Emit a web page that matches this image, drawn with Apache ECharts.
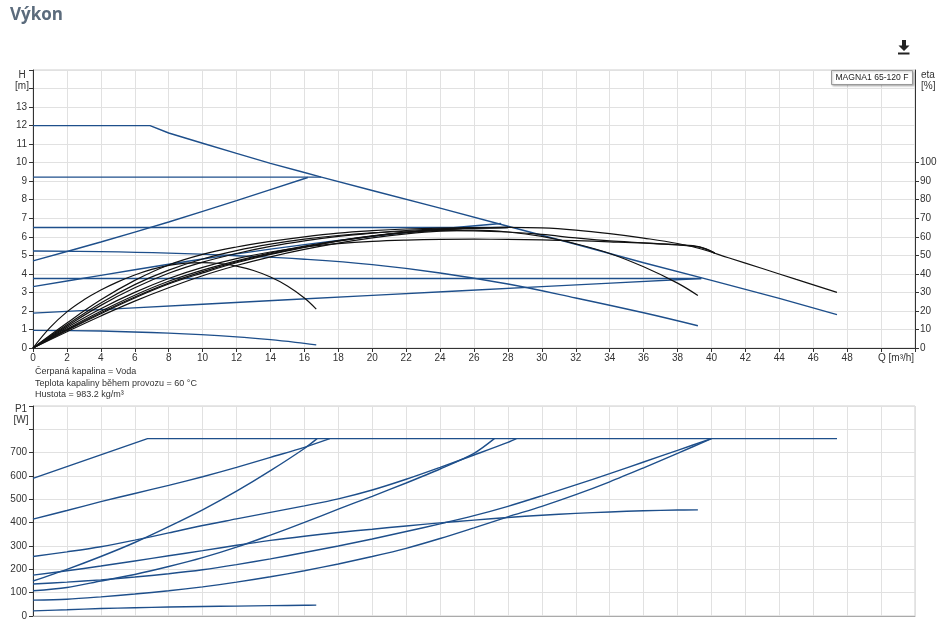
<!DOCTYPE html>
<html><head><meta charset="utf-8">
<script src="https://cdn.jsdelivr.net/npm/echarts@6/dist/echarts.min.js"></script>
<style>html,body{margin:0;padding:0;background:#fff}#c{width:948px;height:634px}</style>
</head><body><div id="c"></div>
<script>
// ---------- H (head) curves, [Q m3/h, H m] ----------
const hMax   = [[0,12],[6.9,12],[8,11.6],[10,11.05],[12,10.5],[14,9.96],[16,9.47],[17,9.22],[20,8.5],[24,7.55],[28,6.57],[32,5.6],[36,4.6],[40,3.65],[44,2.68],[47.4,1.8]];
const hConst92 = [[0,9.22],[17,9.22]];
const hConst65 = [[0,6.5],[28,6.5]];
const hConst375 = [[0,3.75],[39.4,3.75]];
const hProp47 = [[0,4.7],[4,5.72],[8,6.8],[12,7.95],[16.2,9.2]];
const hProp33 = [[0,3.31],[4,3.92],[8,4.52],[12,5.08],[16,5.58],[20,6.02],[24,6.42],[27.6,6.72]];
const hProp19 = [[0,1.88],[10,2.36],[20,2.84],[30,3.31],[39.4,3.75]];
const hFix525 = [[0,5.23],[4,5.2],[8,5.12],[12,4.98],[16,4.79],[20,4.5],[24,4.05],[28,3.45],[32,2.7],[36,1.9],[39.2,1.2]];
const hMin10 = [[0,0.95],[4,0.92],[8,0.8],[12,0.6],[14,0.45],[16,0.25],[16.7,0.17]];

// ---------- eta (efficiency) curves, [Q, %] ----------
const etaMin = [[0,0],[1,11],[2,19.5],[3,26],[4,31.3],[5,35.7],[6,39.4],[7,42.4],[8,44.6],[9,45.8],[10,46.1],[11,45.6],[12,44.2],[13,41.8],[14,38.3],[15,33.5],[16,27],[16.7,21]];
const etaMax = [[0,0],[2,9.5],[4,18.5],[6,27],[8,34.5],[10,40.5],[12,46],[14,50.5],[16,54.3],[18,57.6],[20,60.3],[22,62.4],[24,63.9],[26,64.8],[28,65.1],[30,64.8],[32,63.6],[34,61.7],[36,59.3],[38,56.4],[39.4,53.4],[41,48.7],[43,42.9],[45,37],[47.4,30]];
const etaFix = [[0,0],[2,8.8],[4,17.3],[6,25.3],[8,32.5],[10,39],[12,44.5],[14,49.2],[16,53.2],[18,56.6],[20,59.4],[22,61.6],[24,63.1],[26,63.6],[28,62.6],[30,60.2],[32,56.2],[34,51],[36,43.8],[38,35],[39.2,28.3]];
const etaC = [[0,0],[2,12.5],[4,24.3],[6,34.2],[8,42],[10,48],[12,52.5],[14,56],[16,58.7],[18,60.7],[20,62.1],[22,63],[24,63.3],[26,63.2],[28,62.6],[30,61.3],[32,59.4],[34,57.8],[36,56.8],[38,55.7],[39.3,54.6],[40.2,51.2]];
const etaD = [[0,0],[2,11],[4,21.2],[6,30],[8,37.5],[10,43.5],[12,48.2],[14,51.8],[16,54.5],[18,56.3],[20,57.5],[22,58.2],[24,58.6],[26,58.7],[28,58.6],[30,58.3],[32,57.9],[34,57.3],[36,56.6],[38,55.6],[39.3,54.4],[40.2,51.2]];
const etaE = [[0,0],[2,13.5],[4,26],[6,36.5],[8,44.8],[10,50.5],[12,54.5],[14,57.5],[16,60],[18,62],[20,63.3],[22,64.2],[24,64.7],[26,64.9]];
const etaF = [[0,0],[2,11.8],[4,23],[6,32.5],[8,40.3],[10,46.3],[12,51],[14,54.8],[16,57.8],[18,60.2],[20,62],[22,63.4],[24,64.3],[26,64.7]];
const etaG = [[0,0],[2,10.2],[4,19.8],[6,28.5],[8,36],[10,42],[12,47],[14,51.3],[16,55],[18,58],[20,60.5],[22,62.4],[24,63.7],[26,64.5],[28,64.9]];
const etaH = [[0,0],[2,9.8],[4,19],[6,27.5],[8,35],[10,41.2],[12,46.5],[14,50.8],[16,54.6],[18,57.8],[20,60.4],[22,62.4],[24,63.9],[26,64.8],[28,65.1]];

// ---------- P1 (power) curves, [Q, W] ----------
const pMax = [[0,590],[6.75,760],[47.4,760]];
const pConst92 = [[0,415],[2,452],[4,490],[6,525],[8,560],[10,597],[12,637],[14,680],[16,723],[17.5,760]];
const pProp47 = [[0,150],[2,200],[4,255],[6,315],[8,383],[10,455],[12,535],[14,623],[16,718],[16.75,760]];
const pConst65 = [[0,255],[2,275],[4,297],[6,325],[8,356],[10,388],[12,416],[14,444],[16,472],[18,502],[20,540],[22,586],[24,637],[26,690],[28,744],[28.5,760]];
const pProp33 = [[0,108],[2,122],[4,150],[6,178],[8,212],[10,250],[12,295],[14,347],[16,401],[18,458],[20,513],[22,570],[24,630],[26,697],[27.2,760]];
const pConst375 = [[0,137],[2,145],[4,155],[6,167],[8,181],[10,198],[12,220],[14,245],[16,272],[18,300],[20,330],[22,362],[24,395],[26,430],[28,470],[30,515],[32,562],[34,610],[36,660],[38,710],[40,760]];
const pProp19 = [[0,68],[2,72],[4,82],[6,94],[8,108],[10,125],[12,145],[14,168],[16,194],[18,223],[20,255],[22,290],[24,332],[26,378],[28,425],[30,470],[32,520],[34,575],[36,635],[38,697],[40,760]];
const pFix525 = [[0,175],[2,194],[4,214],[6,236],[8,258],[10,280],[12,303],[14,324],[16,342],[18,358],[20,372],[22,386],[24,399],[26,411],[28,422],[30,432],[32,440],[34,446],[36,451],[38,454],[39.2,455]];
const pMin = [[0,22],[2,27],[4,32],[6,35.5],[8,38.5],[10,40.5],[12,42.5],[14,44.3],[16,46],[16.7,46.5]];

// ---------- ticks / texts ----------
const qMaxLabel = 48;
const hMaxLabel = 13;
const etaTicks = [0,10,20,30,40,50,60,70,80,90,100];
const pMaxLabel = 700;
const titleText = 'Výkon';
const legendText = 'MAGNA1 65-120 F';
const notes = ['Čerpaná kapalina = Voda', 'Teplota kapaliny během provozu = 60 °C', 'Hustota = 983.2 kg/m³'];

const BLUE = '#1e4f8b', BLACK = '#111';
const FONT = 'Liberation Sans, Arial, sans-serif';
const gridLine = {show:true, lineStyle:{color:'#e1e1e1', width:1}};
const labelStyle = {fontSize:10, color:'#333', fontFamily:FONT};

function blue(data, smooth){return {type:'line', xAxisIndex:0, yAxisIndex:0, data, symbol:'none', smooth: smooth||false, lineStyle:{color:BLUE, width:1.4}, silent:true, z:3};}
function black(data){return {type:'line', xAxisIndex:0, yAxisIndex:1, data, symbol:'none', smooth:0.4, lineStyle:{color:BLACK, width:1.2}, silent:true, z:4};}
function pw(data, smooth){return {type:'line', xAxisIndex:1, yAxisIndex:2, data, symbol:'none', smooth: smooth||false, lineStyle:{color:BLUE, width:1.4}, silent:true, z:3};}

const chart = echarts.init(document.getElementById('c'));
chart.setOption({
  animation:false,
  backgroundColor:'#fff',
  grid:[
    {left:33, right:33, top:70, bottom:286, show:true, borderColor:'#cfcfcf', borderWidth:1},
    {left:33, right:33, top:406, bottom:18, show:true, borderColor:'#cfcfcf', borderWidth:1}
  ],
  xAxis:[
    {type:'value', gridIndex:0, min:0, max:52, interval:2,
     axisLine:{show:true, onZero:false, lineStyle:{color:'#333'}},
     axisTick:{show:true, length:4, lineStyle:{color:'#333'}},
     axisLabel:Object.assign({margin:5, formatter:v=> v<=qMaxLabel ? String(v) : ''}, labelStyle),
     splitLine:gridLine},
    {type:'value', gridIndex:1, min:0, max:52, interval:2,
     axisLine:{show:true, onZero:false, lineStyle:{color:'#aaa'}},
     axisTick:{show:false}, axisLabel:{show:false}, splitLine:gridLine}
  ],
  yAxis:[
    {type:'value', gridIndex:0, min:0, max:15, interval:1,
     axisLine:{show:true, lineStyle:{color:'#333'}},
     axisTick:{show:true, length:4, lineStyle:{color:'#333'}},
     axisLabel:Object.assign({margin:6, formatter:v=> v<=hMaxLabel ? String(v) : ''}, labelStyle),
     splitLine:gridLine},
    {type:'value', gridIndex:0, position:'right', min:0, max:150, interval:10,
     axisLine:{show:true, lineStyle:{color:'#333'}},
     axisTick:{show:true, length:4, lineStyle:{color:'#333'}, customValues:etaTicks},
     axisLabel:Object.assign({margin:5, customValues:etaTicks, formatter:v=> v<=100 ? String(v) : ''}, labelStyle),
     splitLine:{show:false}},
    {type:'value', gridIndex:1, min:0, max:900, interval:100,
     axisLine:{show:true, lineStyle:{color:'#333'}},
     axisTick:{show:true, length:4, lineStyle:{color:'#333'}},
     axisLabel:Object.assign({margin:6, formatter:v=> v<=pMaxLabel ? String(v) : ''}, labelStyle),
     splitLine:gridLine}
  ],
  series:[
    blue(hMax), blue(hConst92), blue(hConst65), blue(hConst375),
    blue(hProp47, 0.3), blue(hProp33, 0.3), blue(hProp19, 0.3), blue(hFix525, 0.4), blue(hMin10, 0.4),
    black(etaMin), black(etaMax), black(etaFix), black(etaC), black(etaD), black(etaE), black(etaF), black(etaG), black(etaH),
    pw(pMax), pw(pConst92, 0.3), pw(pProp47, 0.3), pw(pConst65, 0.3), pw(pProp33, 0.3), pw(pConst375, 0.3), pw(pProp19, 0.3), pw(pFix525, 0.4), pw(pMin, 0.4)
  ],
  graphic:[
    {type:'text', left:10, top:7, style:{text:titleText, fill:'#5b6b7c', font:'bold 17px "Open Sans", sans-serif'}},
    // download icon
    {type:'polygon', shape:{points:[[902,40],[906,40],[906,45.5],[909.5,45.5],[904,51],[898.5,45.5],[902,45.5]]}, style:{fill:'#222'}},
    {type:'rect', shape:{x:898,y:52.5,width:11.5,height:2}, style:{fill:'#222'}},
    // legend box
    {type:'rect', shape:{x:831.5,y:70.5,width:81,height:14}, style:{fill:'#fff', stroke:'#999', lineWidth:1, shadowColor:'rgba(0,0,0,0.25)', shadowBlur:2, shadowOffsetX:1, shadowOffsetY:1}, z:10},
    {type:'text', x:872, y:77.5, style:{text:legendText, fill:'#222', font:'8.6px '+FONT, align:'center', verticalAlign:'middle'}, z:11},
    // axis units
    {type:'text', x:22, y:75, style:{text:'H', fill:'#333', font:'10px '+FONT, align:'center', verticalAlign:'middle'}},
    {type:'text', x:22, y:86, style:{text:'[m]', fill:'#333', font:'10px '+FONT, align:'center', verticalAlign:'middle'}},
    {type:'text', x:921, y:75, style:{text:'eta', fill:'#333', font:'10px '+FONT, align:'left', verticalAlign:'middle'}},
    {type:'text', x:921, y:86, style:{text:'[%]', fill:'#333', font:'10px '+FONT, align:'left', verticalAlign:'middle'}},
    {type:'text', x:21, y:409, style:{text:'P1', fill:'#333', font:'10px '+FONT, align:'center', verticalAlign:'middle'}},
    {type:'text', x:21, y:420, style:{text:'[W]', fill:'#333', font:'10px '+FONT, align:'center', verticalAlign:'middle'}},
    {type:'text', x:878, y:358, style:{text:'Q [m³/h]', fill:'#333', font:'10px '+FONT, align:'left', verticalAlign:'middle'}},
    // notes
    {type:'text', x:35, y:372, style:{text:notes[0], fill:'#333', font:'9px '+FONT, align:'left', verticalAlign:'middle'}},
    {type:'text', x:35, y:383.5, style:{text:notes[1], fill:'#333', font:'9px '+FONT, align:'left', verticalAlign:'middle'}},
    {type:'text', x:35, y:395, style:{text:notes[2], fill:'#333', font:'9px '+FONT, align:'left', verticalAlign:'middle'}}
  ]
});
</script></body></html>
